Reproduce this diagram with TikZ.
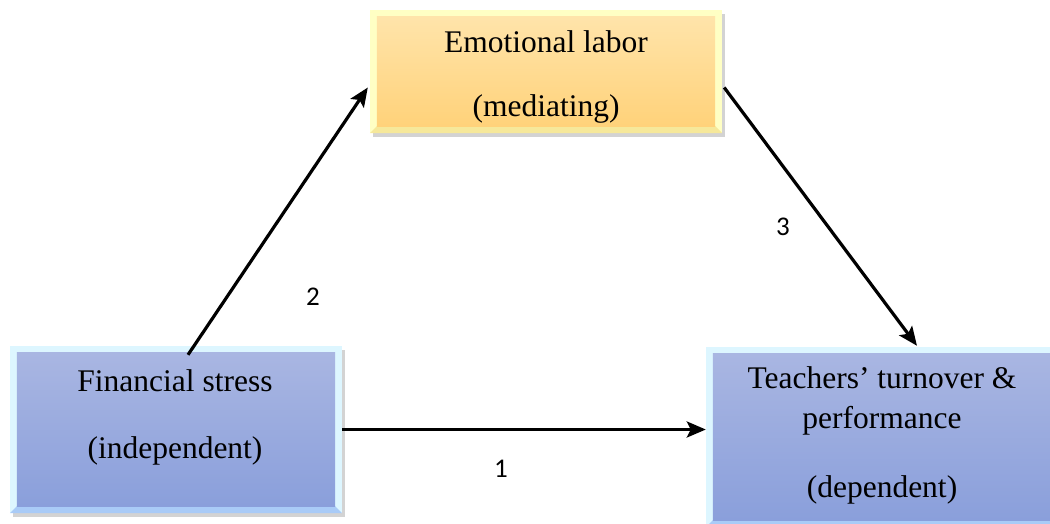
\documentclass[tikz,border=0pt]{standalone}
\usepackage{fontspec}
\setmainfont{Liberation Serif}
\newfontfamily\numfont{Carlito}
\usetikzlibrary{arrows.meta,shadows,calc}
\definecolor{ylout}{HTML}{FFFFC4}
\definecolor{ylbot}{HTML}{F6E89A}
\definecolor{yltop}{HTML}{FFE4AA}
\definecolor{ylbtm}{HTML}{FFD27A}
\definecolor{blout}{HTML}{DDF6FF}
\definecolor{blbot}{HTML}{A9CBF7}
\definecolor{bltop}{HTML}{A9B6E2}
\definecolor{blbtm}{HTML}{8A9FDB}
\tikzset{
  boxbase/.style={draw=none, inner sep=0pt, drop shadow={opacity=0.35, shadow xshift=3pt, shadow yshift=-4pt}},
  boxtext/.style={font=\fontsize{31.5}{36}\selectfont, inner sep=0pt, anchor=center},
  numlabel/.style={font=\numfont\fontsize{27}{30}\selectfont, inner sep=0pt},
  conn/.style={line width=3.2pt, -{Stealth[length=19pt,width=16pt,inset=4pt]}},
}
\newcommand{\bevelbox}[6]{%
  % #1 node name, #2 inset, #3 outer, #4 bottom bevel, #5 top color, #6 bottom color
  \fill[#4] (#1.south west) -- ([xshift=#2,yshift=#2]#1.south west) -- ([xshift=-#2,yshift=#2]#1.south east) -- (#1.south east) -- cycle;
  \shade[top color=#5, bottom color=#6] ([xshift=#2,yshift=-#2]#1.north west) rectangle ([xshift=-#2,yshift=#2]#1.south east);
}
\begin{document}
\begin{tikzpicture}[x=1pt,y=-1pt]
\useasboundingbox (0,0) rectangle (1050,523);
% boxes
\node[boxbase, fill=ylout, minimum width=352pt, minimum height=123pt] (el) at (546,71.5) {};
\bevelbox{el}{7pt}{ylout}{ylbot}{yltop}{ylbtm}
\node[boxbase, fill=blout, minimum width=332pt, minimum height=167pt] (fs) at (176,429.5) {};
\bevelbox{fs}{7pt}{blout}{blbot}{bltop}{blbtm}
\node[boxbase, fill=blout, minimum width=352pt, minimum height=180pt] (td) at (882,437) {};
\bevelbox{td}{7pt}{blout}{blbot}{bltop}{blbtm}
% texts
\node[boxtext] (el1) at (546,42) {Emotional labor};
\node[boxtext] (el2) at (546,109) {(mediating)};
\node[boxtext] (fs1) at (175,381) {Financial stress};
\node[boxtext] (fs2) at (175,451) {(independent)};
\node[boxtext] (td1) at (882,378) {Teachers’ turnover \&};
\node[boxtext] (td2) at (882,421) {performance};
\node[boxtext] (td3) at (882,490) {(dependent)};
% connectors
\coordinate (a2s) at ([xshift=12pt,yshift=-9pt]fs.north);
\coordinate (a2e) at ([xshift=-2pt,yshift=-16pt]el.west);
\coordinate (a3s) at ([xshift=2pt,yshift=-16pt]el.east);
\coordinate (a3e) at ([xshift=35pt,yshift=1pt]td.north);
\draw[conn] (a2s) -- (a2e);
\draw[conn] (a3s) -- (a3e);
\draw[conn] (fs.east) -- (fs.east -| td.west);
% labels
\node[numlabel] (l2) at (313,297) {2};
\node[numlabel] (l3) at (783,227) {3};
\node[numlabel] (l1) at (501,469) {1};
\end{tikzpicture}
\end{document}
